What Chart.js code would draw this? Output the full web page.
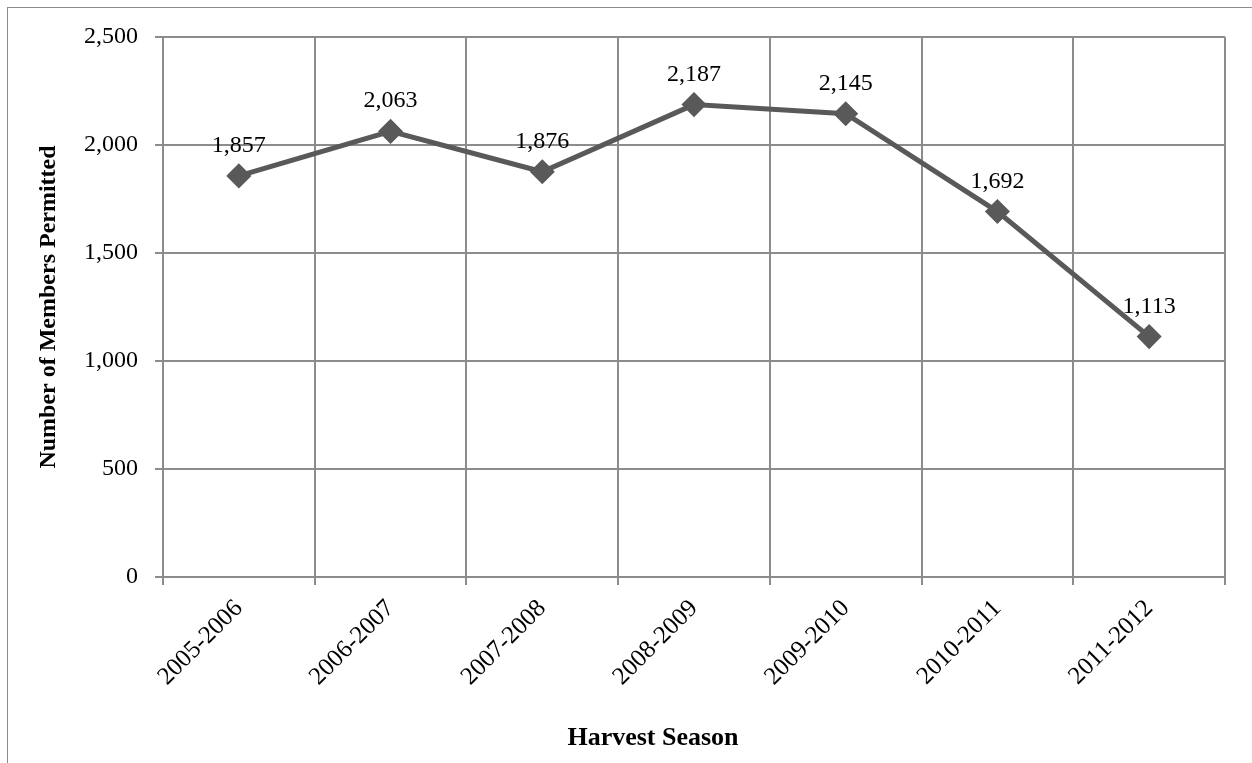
<!DOCTYPE html>
<html>
<head>
<meta charset="utf-8">
<script src="https://cdn.jsdelivr.net/npm/chart.js@4"></script>
<style>
  html, body { margin: 0; padding: 0; background: #fff; overflow: hidden; }
  #frame { position: absolute; left: 7px; top: 7px; width: 1400px; height: 900px; border: 1px solid #8c8c8c; }
  #wrap { position: absolute; left: 0; top: 0; width: 1252px; height: 763px; }
</style>
</head>
<body>
<div id="frame"></div>
<div id="wrap"><canvas id="memberChart" width="1252" height="763"></canvas></div>
<script>
const seasons = ['2005-2006', '2006-2007', '2007-2008', '2008-2009', '2009-2010', '2010-2011', '2011-2012'];
const membersPermitted = [1857, 2063, 1876, 2187, 2145, 1692, 1113];
const yTicks = [0, 500, 1000, 1500, 2000, 2500];
const xTitle = 'Harvest Season';
const yTitle = 'Number of Members Permitted';

const serif = '"Liberation Serif", "Times New Roman", serif';
const lineColor = '#595959';
const gridColor = '#8c8c8c';

// numbers above the points + the x axis title (which sits left of the plot centre in the original)
const valueLabels = {
  id: 'valueLabels',
  afterDatasetsDraw(chart) {
    const ctx = chart.ctx;
    const meta = chart.getDatasetMeta(0);
    ctx.save();
    ctx.font = '24px ' + serif;
    ctx.fillStyle = '#000';
    ctx.textAlign = 'center';
    ctx.textBaseline = 'alphabetic';
    meta.data.forEach((pt, i) => {
      ctx.fillText(membersPermitted[i].toLocaleString('en-US'), pt.x, pt.y - 24);
    });

    ctx.font = 'bold 26px ' + serif;
    ctx.textBaseline = 'middle';
    ctx.fillText(xTitle, 653, 738);
    ctx.restore();
  }
};

const ctx = document.getElementById('memberChart');
new Chart(ctx, {
  type: 'line',
  data: {
    labels: seasons,
    datasets: [{
      data: membersPermitted,
      borderColor: lineColor,
      backgroundColor: lineColor,
      borderWidth: 5,
      pointStyle: 'rectRot',
      pointRadius: 9,
      pointHoverRadius: 9,
      tension: 0,
      fill: false
    }]
  },
  options: {
    responsive: false,
    animation: false,
    events: [],
    layout: { padding: { top: 37, right: 27, left: 0, bottom: 0 } },
    plugins: { legend: { display: false }, tooltip: { enabled: false } },
    scales: {
      x: {
        offset: true,
        grid: { color: gridColor, lineWidth: 2, tickLength: 8, offset: true },
        border: { color: gridColor, width: 2 },
        ticks: {
          font: { family: serif, size: 25 },
          color: '#000',
          maxRotation: 45,
          minRotation: 45,
          padding: 9
        },
        afterFit(scale) { scale.height = 186; }
      },
      y: {
        min: 0,
        max: 2500,
        afterBuildTicks(scale) { scale.ticks = yTicks.map(v => ({ value: v })); },
        grid: { color: gridColor, lineWidth: 2, tickLength: 8 },
        border: { color: gridColor, width: 2 },
        ticks: {
          font: { family: serif, size: 24 },
          color: '#000',
          padding: 17,
          callback: v => v.toLocaleString('en-US')
        },
        title: {
          display: true,
          text: yTitle,
          font: { family: serif, size: 24, weight: 'bold' },
          color: '#000',
          padding: { top: 34, bottom: 0 }
        },
        afterFit(scale) { scale.width = 163; }
      }
    }
  },
  plugins: [valueLabels]
});
</script>
</body>
</html>
